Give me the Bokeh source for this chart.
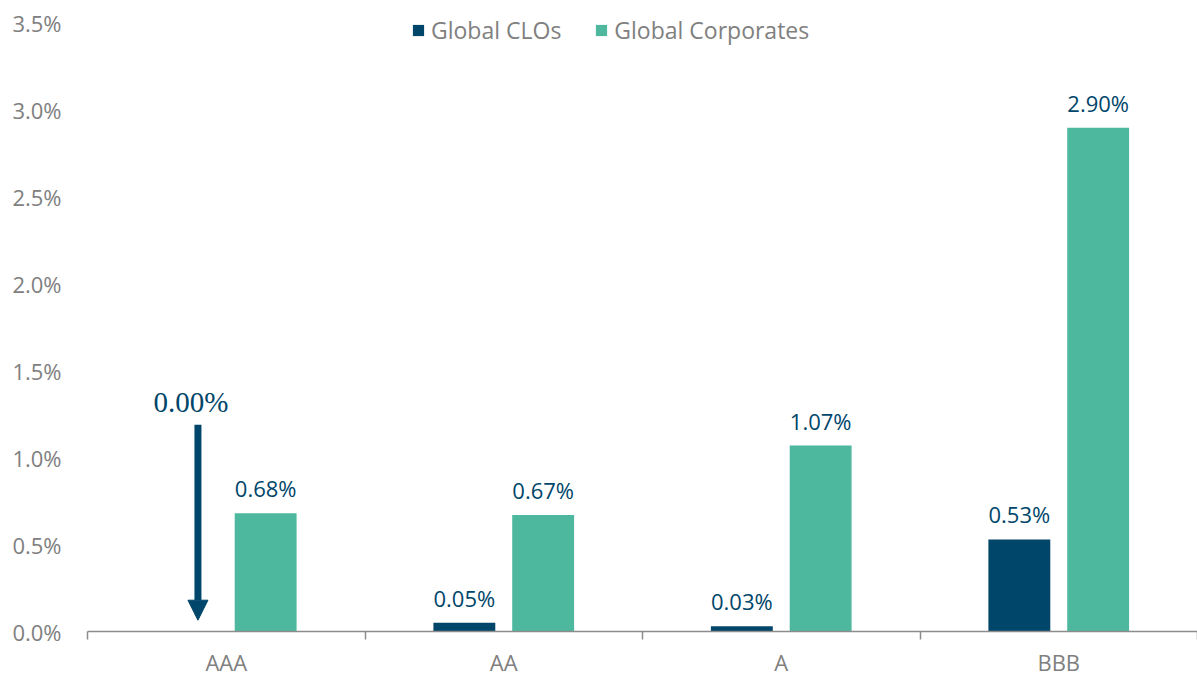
from bokeh.plotting import figure
from bokeh.models import (ColumnDataSource, FixedTicker, Range1d, Arrow, NormalHead,
                          Label, Legend, LegendItem)
from bokeh.core.properties import value
from bokeh.embed import file_html
from bokeh.resources import INLINE

# ---- data ----
categories = ["AAA", "AA", "A", "BBB"]
global_clos = [0.00, 0.05, 0.03, 0.53]
global_corporates = [0.68, 0.67, 1.07, 2.90]
y_ticks = [0.0, 0.5, 1.0, 1.5, 2.0, 2.5, 3.0, 3.5]
y_tick_labels = ["0.0%", "0.5%", "1.0%", "1.5%", "2.0%", "2.5%", "3.0%", "3.5%"]

FONT = "Open Sans"
DARK = "#00466a"
TEAL = "#4db89e"
GRAY = "#808080"
AXIS = "#8c8c8c"

# layout (pixels)
W, H = 1197, 679
TOP_BORDER = 4          # frame top
BOTTOM_BORDER = 46      # below axis line
TOP_TICK_PX = 23        # where the 3.5% tick sits
frame_bottom = H - BOTTOM_BORDER
y_end = y_ticks[-1] * (frame_bottom - TOP_BORDER) / (frame_bottom - TOP_TICK_PX)

centers = [i + 0.5 for i in range(len(categories))]
bounds = [float(i) for i in range(len(categories) + 1)]
off = 0.142
bw = 0.223
clo_x = [c - off for c in centers]
corp_x = [c + off for c in centers]

clo_src = ColumnDataSource(dict(x=clo_x, top=global_clos))
corp_src = ColumnDataSource(dict(x=corp_x, top=global_corporates,
                                 lab=[f"{v:.2f}%" for v in global_corporates]))
clo_lab_src = ColumnDataSource(dict(
    x=[x for x, v in zip(clo_x, global_clos) if v > 0],
    y=[v for v in global_clos if v > 0],
    lab=[f"{v:.2f}%" for v in global_clos if v > 0]))

p = figure(width=W, height=H, x_range=Range1d(0, 4), y_range=Range1d(0, y_end),
           output_backend="svg", toolbar_location=None,
           min_border_left=87, min_border_right=0, min_border_top=TOP_BORDER,
           min_border_bottom=BOTTOM_BORDER)
p.outline_line_color = None
p.xgrid.visible = False
p.ygrid.visible = False
p.background_fill_color = "white"

r_clo = p.vbar(x="x", top="top", width=bw, source=clo_src, fill_color=DARK, line_color=None)
r_corp = p.vbar(x="x", top="top", width=bw, source=corp_src, fill_color=TEAL, line_color=None)

# data labels
p.text(x="x", y="top", text="lab", source=corp_src, text_align="center",
       text_baseline="alphabetic", y_offset=-25, text_font=value(FONT),
       text_font_size="22px", text_color=DARK)
p.text(x="x", y="y", text="lab", source=clo_lab_src, text_align="center",
       text_baseline="alphabetic", y_offset=-25, text_font=value(FONT),
       text_font_size="22px", text_color=DARK)

# AAA CLO annotation
p.add_layout(Label(x=clo_x[0] + 0.015, y=1.32, text=f"{global_clos[0]:.2f}%",
                   text_font="Liberation Serif", text_font_size="29px",
                   text_align="center", text_baseline="middle", text_color=DARK))
p.add_layout(Arrow(end=NormalHead(size=20, fill_color=DARK, line_color=DARK),
                   x_start=clo_x[0] + 0.04, y_start=1.19,
                   x_end=clo_x[0] + 0.04, y_end=global_clos[0] + 0.065,
                   line_width=7, line_color=DARK))

# x axis
xa = p.xaxis[0]
xa.ticker = FixedTicker(ticks=centers, minor_ticks=bounds)
xa.major_label_overrides = {c: cat for c, cat in zip(centers, categories)}
xa.major_tick_line_color = None
xa.major_tick_out = 0
xa.major_tick_in = 0
xa.minor_tick_out = 8
xa.minor_tick_in = 0
xa.minor_tick_line_color = AXIS
xa.minor_tick_line_width = 1.5
xa.axis_line_color = AXIS
xa.axis_line_width = 1.5
xa.major_label_standoff = 7
xa.major_label_text_font = FONT
xa.major_label_text_font_size = "22px"
xa.major_label_text_color = GRAY

# y axis
ya = p.yaxis[0]
ya.ticker = FixedTicker(ticks=y_ticks)
ya.major_label_overrides = {t: l for t, l in zip(y_ticks, y_tick_labels)}
ya.axis_line_color = None
ya.major_tick_line_color = None
ya.minor_tick_line_color = None
ya.major_tick_out = 0
ya.major_tick_in = 0
ya.major_label_standoff = 26
ya.major_label_text_font = FONT
ya.major_label_text_font_size = "22px"
ya.major_label_text_color = GRAY

legend = Legend(items=[LegendItem(label="Global CLOs", renderers=[r_clo]),
                       LegendItem(label="Global Corporates", renderers=[r_corp])],
                orientation="horizontal", location=(324, 585),
                border_line_color=None, background_fill_alpha=0,
                glyph_width=14, glyph_height=14, label_standoff=6, spacing=33,
                padding=2, margin=0,
                label_text_font=FONT, label_text_font_size="23px",
                label_text_color=GRAY)
p.add_layout(legend)

open("out.html", "w").write(file_html(p, INLINE))
